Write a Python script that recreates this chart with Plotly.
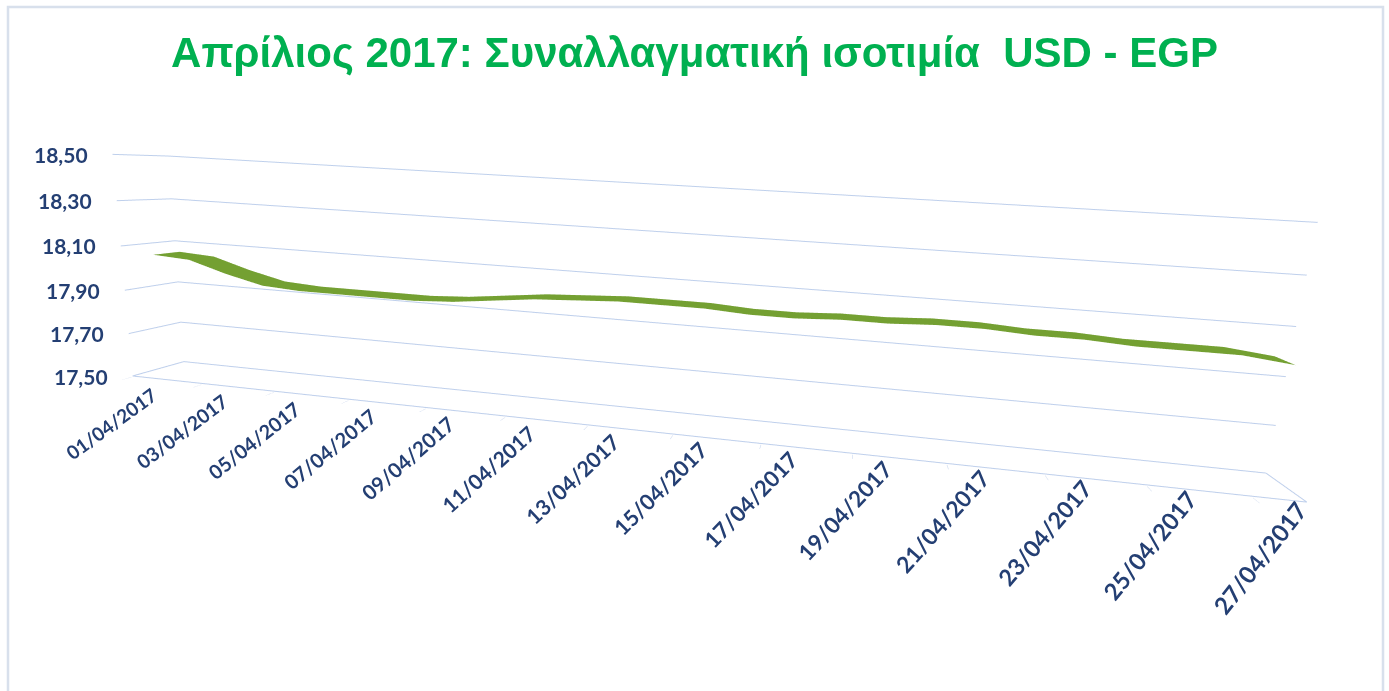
import plotly.graph_objects as go

# ---- data ----
days = ["01/04/2017", "02/04/2017", "03/04/2017", "04/04/2017", "05/04/2017",
        "06/04/2017", "07/04/2017", "08/04/2017", "09/04/2017", "10/04/2017",
        "11/04/2017", "12/04/2017", "13/04/2017", "14/04/2017", "15/04/2017",
        "16/04/2017", "17/04/2017", "18/04/2017", "19/04/2017", "20/04/2017",
        "21/04/2017", "22/04/2017", "23/04/2017", "24/04/2017", "25/04/2017",
        "26/04/2017", "27/04/2017"]
usd_egp = [18.06, 18.05, 18.00, 17.96, 17.95, 17.95, 17.95, 17.95, 17.96, 17.98,
           18.00, 18.01, 18.02, 18.02, 18.02, 18.01, 18.01, 18.02, 18.02, 18.03,
           18.03, 18.02, 18.02, 18.01, 18.01, 18.01, 17.99]
value_ticks = [17.50, 17.70, 17.90, 18.10, 18.30, 18.50]
value_tick_labels = ["17,50", "17,70", "17,90", "18,10", "18,30", "18,50"]
title_text = "Απρίλιος 2017: Συναλλαγματική ισοτιμία  USD - EGP"

# ---- styling ----
GRID = "#BFD0EC"
LABEL = "#243F73"
RIBBON = "#74A032"
TITLE_GREEN = "#00B050"

n = len(days)
xs = list(range(1, n + 1))
x_lo, x_hi = 0.5, n + 0.5
d_lo, d_hi = 0.0, 1.0          # depth (series) axis
z_lo, z_hi = value_ticks[0], value_ticks[-1]
boundaries = [x_lo + 2 * i for i in range((n + 1) // 2)]
# tiny padding so lines lying on the box faces are not clipped
px_, pd_, pz_ = 0.03, 0.02, 0.004

fig = go.Figure()

# major gridlines of the value axis: left wall + back wall, plus floor end
gx, gy, gz = [], [], []
for v in value_ticks:
    gx += [x_lo, x_lo, x_hi, None]
    gy += [d_lo, d_hi, d_hi, None]
    gz += [v, v, v, None]
gx += [x_hi, x_hi, None, x_lo, x_hi]
gy += [d_lo, d_hi, None, d_lo, d_lo]
gz += [z_lo, z_lo, None, z_lo, z_lo]
fig.add_trace(go.Scatter3d(
    x=gx, y=gy, z=gz, mode="lines", connectgaps=False,
    line=dict(color=GRID, width=2), hoverinfo="skip", showlegend=False))

# ribbon (3-D line) at mid depth
fig.add_trace(go.Surface(
    x=xs, y=[0.25, 0.75], z=[usd_egp, usd_egp],
    surfacecolor=[[0] * n, [0] * n],
    colorscale=[[0, RIBBON], [1, RIBBON]], cmin=0, cmax=1,
    showscale=False, hoverinfo="skip",
    lighting=dict(ambient=1, diffuse=0, specular=0, roughness=1, fresnel=0),
))

annotations = []
for v, lab in zip(value_ticks, value_tick_labels):
    annotations.append(dict(
        x=x_lo, y=d_lo, z=v, text="<b>" + lab + "</b>", showarrow=False,
        xanchor="right", yanchor="middle", xshift=-23,
        font=dict(family="Lato", size=21, color=LABEL)))
lab_idx = list(range(0, n, 2))
for j, i in enumerate(lab_idx):
    t = j / (len(lab_idx) - 1)
    annotations.append(dict(
        x=xs[i], y=d_lo, z=z_lo, text="<b>" + days[i] + "</b>",
        showarrow=False, textangle=-36 - 16 * t,
        xanchor="right", yanchor="top",
        xshift=14 + 22 * t * t, yshift=-2 + 8 * t,
        font=dict(family="Lato", size=19 + 5 * t, color=LABEL)))

common = dict(showbackground=False, zeroline=False, showspikes=False,
              showgrid=False, title=dict(text=""))

fig.update_layout(
    width=1389, height=691,
    margin=dict(l=0, r=0, t=0, b=0),
    paper_bgcolor="white",
    title=dict(text=title_text, x=0.5, xref="container", y=0.925,
               yref="container", xanchor="center", yanchor="middle",
               font=dict(family="Liberation Sans", size=42, color=TITLE_GREEN,
                         weight="bold")),
    scene=dict(
        domain=dict(x=[0.0, 1.0], y=[0.0, 1.0]),
        bgcolor="rgba(0,0,0,0)",
        xaxis=dict(range=[x_lo - px_, x_hi + px_], autorange=False,
                   tickvals=boundaries, ticks="outside", ticklen=6,
                   tickcolor=GRID, showticklabels=False, showline=False,
                   **common),
        yaxis=dict(range=[d_lo - pd_, d_hi + pd_], autorange=False,
                   showticklabels=False, ticks="", showline=False, **common),
        zaxis=dict(range=[z_lo - pz_, z_hi + pz_], autorange=False,
                   showticklabels=False, ticks="", showline=False, **common),
        aspectmode="manual",
        aspectratio=dict(x=1.41, y=0.092, z=0.288),
        camera=dict(eye=dict(x=0.2017, y=-0.9672, z=0.1647),
                    center=dict(x=0.0389, y=-0.0027, z=-0.0432),
                    up=dict(x=-0.0878, y=0.1957, z=0.9766),
                    projection=dict(type="perspective")),
        annotations=annotations,
    ),
    shapes=[dict(type="rect", xref="paper", yref="paper",
                 x0=8 / 1389, x1=1383 / 1389, y0=-0.05, y1=1 - 7 / 691,
                 line=dict(color="#D8E0EC", width=2.5), layer="above")],
    showlegend=False,
)

fig.write_html("out.html")
